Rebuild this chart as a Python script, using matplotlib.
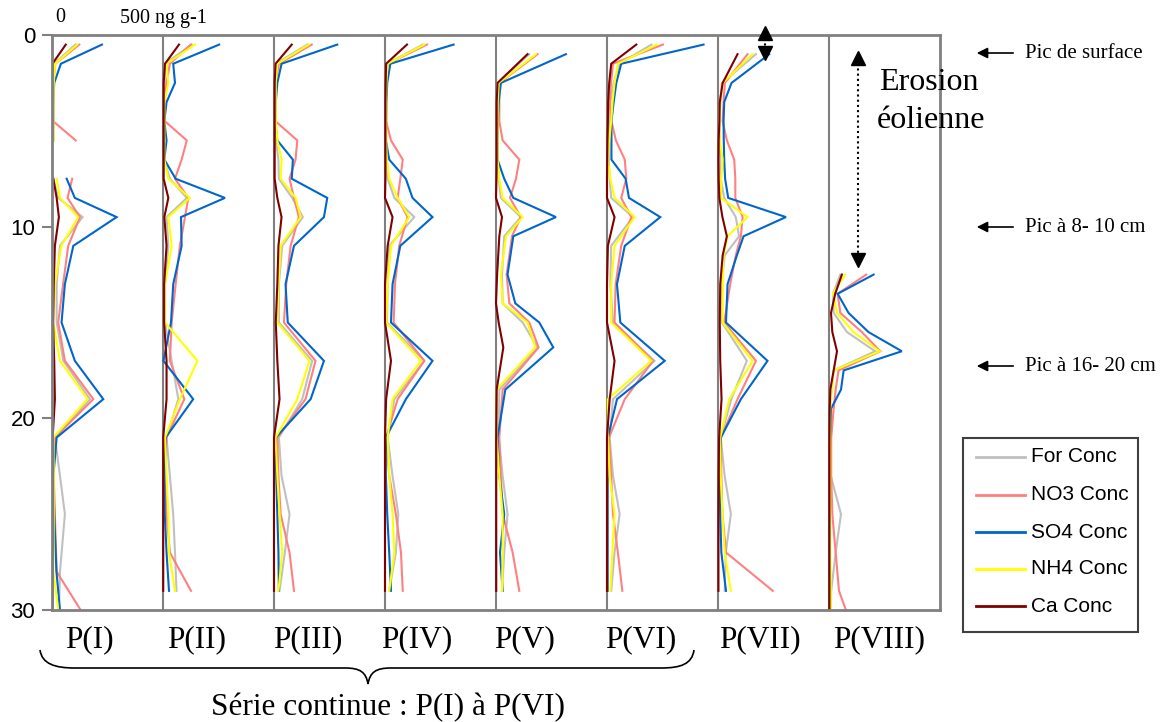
import numpy as np
import matplotlib
matplotlib.use("Agg")
import matplotlib.pyplot as plt
from matplotlib.lines import Line2D
from matplotlib.patches import Rectangle, PathPatch, FancyArrowPatch
from matplotlib.path import Path

nan = np.nan

species = ["For Conc", "NO3 Conc", "SO4 Conc", "NH4 Conc", "Ca Conc"]
colors = ["#C0C0C0", "#FF8080", "#0066CC", "#FFFF00", "#800000"]
panel_names = ["P(I)", "P(II)", "P(III)", "P(IV)", "P(V)", "P(VI)", "P(VII)", "P(VIII)"]
y_ticks = [0, 10, 20, 30]

# ---- Panel I (depth in cm, concentrations in ng g-1) ----
p1_depth = [0.5, 1.5, 2.5, 3.5, 4.5, 5.5, 6.5, 7.5, 8.5, 9.5, 11, 13, 15, 17, 19, 21, 23, 25, 28, 30]
p1_for = [105, 10, 8, 6, 6, 8, nan, 6, 28, 138, 36, 21, 21, 51, 171, 13, 36, 58, 36, 31]
p1_no3 = [123, 15, 5, 4, 5, 107, nan, 91, 70, 126, 73, 50, 28, 58, 186, 13, 8, 13, 21, 129]
p1_so4 = [225, 40, 10, 6, 5, 4, nan, 66, 103, 291, 96, 58, 43, 103, 231, 21, 6, 10, 20, 36]
p1_nh4 = [114, 14, 8, 7, 6, 7, nan, 21, 36, 118, 42, 13, 6, 36, 160, 6, 8, 8, 6, 28]
p1_ca = [62, 2, 1, 1, 1, 1, nan, 6, 21, 31, 13, 8, 5, 10, 13, 3, 3, 3, 2, 2]

# ---- Panel II ----
p2_depth = [0.5, 1.5, 2.5, 3.5, 4.5, 5.5, 6.5, 7.5, 8.5, 9.5, 11, 13, 15, 17, 19, 21, 23, 25, 27, 29]
p2_for = [129, 9, 8, 6, 5, 5, 5, 31, 107, 16, 24, 9, 9, 39, 69, 16, 31, 46, 54, 61]
p2_no3 = [125, 31, 16, 6, 9, 107, 84, 54, 114, 99, 76, 57, 39, 31, 96, 16, 9, 16, 31, 126]
p2_so4 = [253, 46, 54, 16, 6, 16, 6, 57, 279, 81, 84, 46, 36, 2, 136, 12, 6, 8, 16, 27]
p2_nh4 = [144, 16, 24, 6, 6, 6, 6, 24, 121, 24, 39, 9, 9, 155, 76, 9, 16, 24, 27, 54]
p2_ca = [72, 9, 3, 3, 3, 3, 3, 3, 24, 6, 16, 5, 5, 16, 16, 1, 1, 1, 1, 1]

# ---- Panel III ----
p3_depth = [0.5, 1.5, 2.5, 3.5, 4.5, 5.5, 6.5, 7.5, 8.5, 9.5, 11, 13, 15, 17, 19, 21, 23, 25, 27, 29]
p3_for = [150, 8, 6, 5, 5, 8, 20, 22, 82, 130, 37, 22, 22, 172, 127, 22, 34, 70, 49, 25]
p3_no3 = [170, 22, 6, 5, 7, 105, 97, 70, 90, 112, 75, 55, 45, 187, 142, 15, 20, 30, 70, 90]
p3_so4 = [285, 34, 15, 8, 5, 15, 85, 80, 240, 225, 90, 52, 62, 225, 165, 8, 10, 15, 20, 22]
p3_nh4 = [157, 15, 8, 8, 8, 15, 34, 30, 97, 120, 30, 20, 15, 160, 105, 7, 15, 25, 37, 20]
p3_ca = [80, 7, 3, 3, 3, 3, 3, 3, 15, 34, 20, 15, 8, 15, 25, 0, 0, 0, 0, 0]

# ---- Panel IV ----
p4_depth = [0.5, 1.5, 2.5, 3.5, 4.5, 5.5, 6.5, 7.5, 8.5, 9.5, 11, 13, 15, 17, 19, 21, 23, 25, 27, 29]
p4_for = [170, 10, 6, 5, 5, 5, 8, 12, 42, 132, 19, 12, 9, 177, 42, 12, 34, 60, 49, 19]
p4_no3 = [189, 12, 6, 5, 5, 27, 80, 69, 57, 102, 64, 45, 39, 177, 57, 5, 19, 49, 72, 80]
p4_so4 = [309, 24, 10, 6, 5, 4, 19, 94, 124, 214, 69, 34, 27, 214, 94, 4, 4, 10, 19, 27]
p4_nh4 = [177, 12, 6, 5, 5, 5, 8, 19, 57, 109, 27, 12, 5, 162, 34, 12, 19, 34, 42, 19]
p4_ca = [99, 5, 3, 2, 2, 2, 2, 2, 0, 34, 12, 0, 0, 27, 5, 0, 0, 0, 0, 0]

# ---- Panel V ----
p5_depth = [1.0, 2.5, 3.5, 4.5, 5.5, 6.5, 7.5, 8.5, 9.5, 10.5, 12.5, 14, 15, 16.3, 18.5, 21, 23, 25, 27, 29]
p5_for = [150, 7, 5, 5, 5, 7, 12, 22, 112, 37, 27, 30, 120, 187, 15, 12, 30, 52, 37, 27]
p5_no3 = [187, 15, 15, 15, 30, 105, 90, 63, 112, 72, 48, 60, 150, 192, 30, 15, 22, 30, 75, 105]
p5_so4 = [315, 22, 12, 8, 7, 7, 37, 78, 270, 78, 52, 87, 195, 258, 42, 7, 15, 37, 18, 30]
p5_nh4 = [180, 12, 8, 7, 7, 7, 15, 30, 120, 45, 22, 30, 142, 177, 3, 3, 15, 30, 30, 27]
p5_ca = [142, 7, 3, 3, 3, 3, 2, 0, 27, 15, 5, 0, 12, 33, 3, 1, 1, 1, 1, 1]

# ---- Panel VI ----
p6_depth = [0.5, 1.5, 2.5, 3.5, 4.5, 5.5, 6.5, 7.5, 8.5, 9.5, 11, 13, 15, 17, 19, 21, 23, 25, 27, 29]
p6_for = [200, 57, 30, 15, 10, 8, 8, 12, 19, 117, 19, 15, 27, 214, 27, 12, 27, 57, 34, 19]
p6_no3 = [252, 27, 18, 12, 20, 40, 80, 87, 64, 110, 64, 39, 34, 207, 80, 9, 19, 27, 49, 69]
p6_so4 = [435, 64, 42, 30, 20, 20, 20, 84, 99, 240, 80, 45, 60, 260, 45, 4, 3, 3, 3, 3]
p6_nh4 = [225, 49, 34, 25, 19, 10, 4, 15, 34, 124, 34, 19, 19, 200, 4, 4, 12, 34, 24, 15]
p6_ca = [132, 19, 10, 5, 4, 2, 1, 0, 0, 34, 4, 0, 0, 34, 12, 0, 0, 0, 0, 0]

# ---- Panel VII ----
p7_depth = [1.0, 2.5, 3.5, 4.5, 5.5, 6.5, 7.5, 8.5, 9.5, 10.5, 11.5, 13, 15, 17, 19, 21, 23, 25, 27, 29]
p7_for = [171, 18, 10, 8, 8, 10, 12, 28, 80, 95, 30, 15, 18, 130, 60, 12, 30, 58, 35, 30]
p7_no3 = [133, 31, 25, 21, 40, 73, 78, 78, 111, 103, 80, 55, 28, 171, 88, 13, 15, 20, 36, 247]
p7_so4 = [231, 61, 28, 25, 26, 28, 32, 46, 306, 115, 85, 43, 36, 223, 103, 13, 8, 10, 15, 36]
p7_nh4 = [156, 21, 10, 6, 8, 21, 15, 13, 133, 43, 25, 21, 21, 156, 51, 10, 12, 20, 30, 58]
p7_ca = [88, 21, 8, 6, 3, 2, 3, 6, 20, 40, 21, 10, 8, 10, 16, 5, 3, 2, 2, 2]

# ---- Panel VIII ----
p8_depth = [12.5, 13.5, 14.5, 15.5, 16.5, 17.5, 18.5, 19.5, 21, 23, 25, 27, 29, 30]
p8_for = [51, 18, 21, 81, 208, 21, 10, 5, 5, 8, 54, 30, 10, 8]
p8_no3 = [168, 39, 51, 148, 231, 43, 30, 21, 10, 10, 15, 30, 45, 76]
p8_so4 = [201, 39, 88, 178, 328, 66, 54, 9, 5, 3, 3, 3, 3, 3]
p8_nh4 = [73, 18, 36, 111, 228, 21, 13, 5, 5, 5, 5, 5, 8, 8]
p8_ca = [58, 28, 9, 15, 36, 21, 6, 3, 2, 2, 2, 2, 2, 2]

panels = [
    (p1_depth, [p1_for, p1_no3, p1_so4, p1_nh4, p1_ca]),
    (p2_depth, [p2_for, p2_no3, p2_so4, p2_nh4, p2_ca]),
    (p3_depth, [p3_for, p3_no3, p3_so4, p3_nh4, p3_ca]),
    (p4_depth, [p4_for, p4_no3, p4_so4, p4_nh4, p4_ca]),
    (p5_depth, [p5_for, p5_no3, p5_so4, p5_nh4, p5_ca]),
    (p6_depth, [p6_for, p6_no3, p6_so4, p6_nh4, p6_ca]),
    (p7_depth, [p7_for, p7_no3, p7_so4, p7_nh4, p7_ca]),
    (p8_depth, [p8_for, p8_no3, p8_so4, p8_nh4, p8_ca]),
]
panel_width = 500  # ng g-1 per panel

SERIF = "Liberation Serif"
SANS = "Liberation Sans"
W, H = 1168, 722


def fp(x, y):
    return (x / W, 1 - y / H)


fig = plt.figure(figsize=(W / 100, H / 100), dpi=100)
fig.patch.set_facecolor("white")
ax = fig.add_axes([52 / W, 1 - 610 / H, (940 - 52) / W, (610 - 35) / H])
ax.set_xlim(0, panel_width * len(panels))
ax.set_ylim(30, 0)

for k, (depth, series) in enumerate(panels):
    for vals, col in zip(series, colors):
        ax.plot(np.array(vals, dtype=float) + k * panel_width, depth,
                color=col, lw=1.5, solid_joinstyle="miter")

for k in range(1, len(panels)):
    ax.axvline(k * panel_width, color="#808080", lw=1.5, zorder=0.5)

for s in ax.spines.values():
    s.set_color("#808080")
    s.set_linewidth(2)

ax.set_xticks([])
ax.set_yticks(y_ticks)
ax.set_yticklabels([str(t) for t in y_ticks], fontfamily=SANS, fontsize=16)
ax.tick_params(axis="y", direction="out", length=7, width=1.5, color="#808080", pad=5)

# top scale labels
fig.text(*fp(60, 18), "0", ha="center", va="center", fontfamily=SERIF, fontsize=14.5)
fig.text(*fp(163, 18), "500 ng g-1", ha="center", va="center", fontfamily=SERIF, fontsize=14.5)

# panel labels
label_x = [89, 197, 308, 417, 525, 641, 760, 879]
for name, lx in zip(panel_names, label_x):
    fig.text(*fp(lx, 640), name, ha="center", va="center", fontfamily=SERIF, fontsize=22.5)

# brace
pts = [(40, 650), (42, 664), (55, 668), (75, 668), (345, 668),
       (360, 668), (366, 672), (368, 684),
       (370, 672), (376, 668), (391, 668), (661, 668),
       (681, 668), (692, 664), (694, 650)]
codes = [Path.MOVETO, Path.CURVE4, Path.CURVE4, Path.CURVE4, Path.LINETO,
         Path.CURVE4, Path.CURVE4, Path.CURVE4,
         Path.CURVE4, Path.CURVE4, Path.CURVE4, Path.LINETO,
         Path.CURVE4, Path.CURVE4, Path.CURVE4]
brace = PathPatch(Path([fp(*p) for p in pts], codes), transform=fig.transFigure,
                  facecolor="none", edgecolor="black", lw=1.2)
fig.add_artist(brace)
fig.text(*fp(388, 708), "Série continue : P(I) à P(VI)", ha="center", va="center",
         fontfamily=SERIF, fontsize=22.5)

# right-side arrows and notes
for yy, txt in [(53, "Pic de surface"), (227, "Pic à 8- 10 cm"), (366, "Pic à 16- 20 cm")]:
    fig.add_artist(FancyArrowPatch(
        fp(1016, yy), fp(974, yy), transform=fig.transFigure,
        arrowstyle="-|>", mutation_scale=16, color="black", lw=1.2))
    fig.text(*fp(1025, yy), txt, ha="left", va="center", fontfamily=SERIF, fontsize=15)

fig.text(*fp(879, 83), "Erosion", ha="left", va="center", fontfamily=SERIF, fontsize=23)
fig.text(*fp(877, 120), "éolienne", ha="left", va="center", fontfamily=SERIF, fontsize=23)


def dotted_double_arrow(x, y1, y2):
    fig.add_artist(Line2D([fp(x, y1)[0], fp(x, y2)[0]], [fp(x, y1 + 6)[1], fp(x, y2 - 6)[1]],
                          transform=fig.transFigure, color="black", lw=1.5, ls=(0, (1, 1.5))))
    fig.add_artist(Line2D([fp(x, y1 + 6)[0]], [fp(x, y1 + 6)[1]], transform=fig.transFigure,
                          marker="^", color="black", markersize=10, ls="none"))
    fig.add_artist(Line2D([fp(x, y2 - 6)[0]], [fp(x, y2 - 6)[1]], transform=fig.transFigure,
                          marker="v", color="black", markersize=10, ls="none"))


dotted_double_arrow(858, 52, 266)
dotted_double_arrow(765, 27, 59)

# legend box
fig.add_artist(Rectangle(fp(963, 632), (1138 - 963) / W, (632 - 438) / H,
                         transform=fig.transFigure, facecolor="white",
                         edgecolor="#404040", lw=1.5))
leg_y = [457, 495, 532, 569, 606]
for name, col, ly in zip(species, colors, leg_y):
    fig.add_artist(Line2D([976 / W, 1025 / W], [fp(0, ly)[1]] * 2,
                          transform=fig.transFigure, color=col, lw=2))
    fig.text(*fp(1031, ly), name, ha="left", va="center", fontfamily=SANS, fontsize=15)

fig.savefig("out.png", dpi=100)
